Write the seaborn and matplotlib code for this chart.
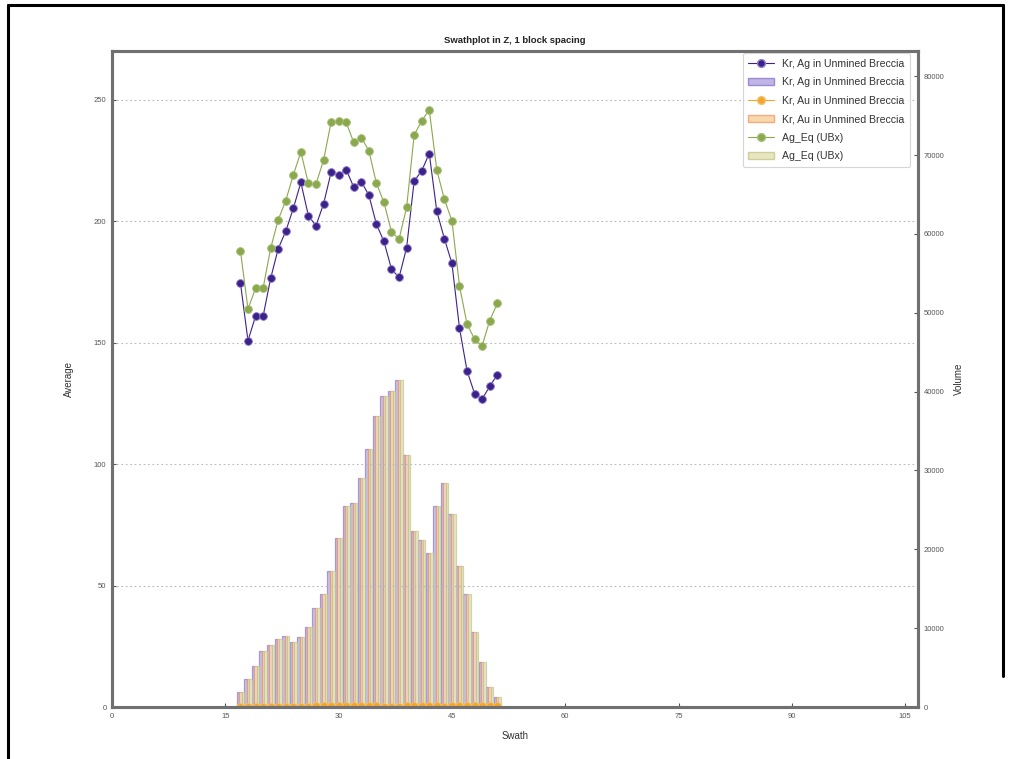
import matplotlib
matplotlib.use("Agg")
import matplotlib.pyplot as plt
import matplotlib.lines as mlines
import matplotlib.patches as mpatches
import numpy as np
import pandas as pd
import seaborn as sns

# Swath positions (block index along Z)
swath = [17, 18, 19, 20, 21, 22, 23, 24, 25, 26, 27, 28, 29, 30, 31, 32, 33, 34,
         35, 36, 37, 38, 39, 40, 41, 42, 43, 44, 45, 46, 47, 48, 49, 50, 51]

# Average grades per swath
ag_avg = [174.6, 150.8, 160.8, 160.8, 176.4, 188.6, 195.8, 205.2, 215.9, 202.2,
          198.1, 207.0, 220.0, 219.0, 221.2, 214.0, 216.2, 210.7, 198.8, 191.6,
          180.2, 176.8, 189.0, 216.5, 220.7, 227.8, 204.0, 192.8, 182.6, 156.0,
          138.4, 129.0, 126.7, 132.0, 136.7]
au_avg = [0.17, 0.16, 0.14, 0.14, 0.16, 0.15, 0.16, 0.17, 0.16, 0.17,
          0.21, 0.22, 0.26, 0.28, 0.24, 0.23, 0.23, 0.23, 0.21, 0.20,
          0.19, 0.20, 0.21, 0.24, 0.26, 0.22, 0.21, 0.20, 0.22, 0.22,
          0.24, 0.28, 0.28, 0.34, 0.37]
ageq_avg = [187.8, 163.8, 172.3, 172.3, 188.8, 200.5, 208.4, 219.0, 228.4, 215.5,
            215.2, 225.0, 240.6, 241.3, 240.6, 232.4, 234.4, 229.0, 215.6, 207.7,
            195.6, 192.6, 205.6, 235.4, 241.3, 245.8, 221.0, 209.0, 200.1, 173.4,
            157.6, 151.4, 148.7, 159.0, 166.1]

# Block volume per swath (same blocks for each estimate)
volume = [1900, 3500, 5230, 7130, 7850, 8650, 8990, 8270, 8900, 10090,
          12620, 14300, 17260, 21480, 25490, 25910, 29080, 32770, 36880, 39410,
          40040, 41440, 31900, 22320, 21150, 19580, 25490, 28440, 24500, 17900,
          14300, 9450, 5650, 2600, 1300]

lbl_ag = "Kr, Ag in Unmined Breccia"
lbl_au = "Kr, Au in Unmined Breccia"
lbl_eq = "Ag_Eq (UBx)"

x_ticks = [0, 15, 30, 45, 60, 75, 90, 105]
y_ticks = [0, 50, 100, 150, 200, 250]
v_ticks = [0, 10000, 20000, 30000, 40000, 50000, 60000, 70000, 80000]

c_ag_line, c_ag_bar, c_ag_edge = "#3d2189", "#b2a2e2", "#8c78c8"
c_au_line, c_au_bar, c_au_edge = "#f4a52a", "#f8cf98", "#f09a6a"
c_eq_line, c_eq_bar, c_eq_edge = "#8aa84e", "#e4e0b0", "#c2c88a"

sns.set_theme(style="white")
plt.rcParams["font.family"] = ["Liberation Sans", "DejaVu Sans"]

lines_df = pd.DataFrame({
    "swath": swath * 3,
    "avg": ag_avg + au_avg + ageq_avg,
    "series": [lbl_ag] * len(swath) + [lbl_au] * len(swath) + [lbl_eq] * len(swath),
})
bars_df = pd.DataFrame({
    "swath": swath * 3,
    "vol": volume * 3,
    "series": ["ag"] * len(swath) + ["au"] * len(swath) + ["eq"] * len(swath),
})

fig = plt.figure(figsize=(10.10, 7.59), dpi=100)
ax = fig.add_axes([0.1109, 0.0685, 0.7980, 0.8643])
ax2 = ax.twinx()

# volume bars on the secondary axis
sns.barplot(data=bars_df, x="swath", y="vol", hue="series", native_scale=True,
            palette={"ag": c_ag_bar, "au": c_au_bar, "eq": c_eq_bar},
            width=0.95, dodge=True, alpha=0.7, linewidth=0.9,
            legend=False, ax=ax2, errorbar=None)
edge_map = [c_ag_edge, c_au_edge, c_eq_edge]
for i, cont in enumerate(ax2.containers):
    for p in cont:
        p.set_edgecolor(edge_map[i])

# average grade lines on the primary axis
sns.lineplot(data=lines_df, x="swath", y="avg", hue="series",
             palette={lbl_ag: c_ag_line, lbl_au: c_au_line, lbl_eq: c_eq_line},
             marker="o", markersize=5.6, markeredgewidth=0.6, linewidth=0.8,
             legend=False, ax=ax, sort=False)
for ln, mc in zip(ax.get_lines(), ["#8f7fcf", "#f3c070", "#a8bf78"]):
    ln.set_markeredgecolor(mc)

ax.set_zorder(ax2.get_zorder() + 1)
ax.patch.set_visible(False)

ax.set_xlim(0, 106.7)
ax.set_ylim(0, 270)
ax2.set_ylim(0, 83200)
ax.set_xticks(x_ticks)
ax.set_yticks(y_ticks)
ax2.set_yticks(v_ticks)

ax.yaxis.grid(True, linestyle=(0, (1.5, 2.5)), color="#b8b8b8", linewidth=0.8)
ax.xaxis.grid(False)
ax2.grid(False)

for a in (ax, ax2):
    for s in a.spines.values():
        s.set_color("#707070")
        s.set_linewidth(2.2)
    a.tick_params(direction="in", length=3, width=0.8, color="#555555",
                  labelsize=5.5, labelcolor="#555555", pad=4)
ax.tick_params(axis="y", left=True, right=False)
ax.tick_params(axis="x", bottom=True)
ax2.tick_params(axis="y", right=True, left=False)

ax.set_xlabel("Swath", fontsize=7, color="#333333", labelpad=8)
ax.set_ylabel("Average", fontsize=7, color="#333333", labelpad=14)
ax2.set_ylabel("Volume", fontsize=7, color="#333333", labelpad=7)
ax2.set_xlabel("")
ax.set_title("Swathplot in Z, 1 block spacing", fontsize=6.8, fontweight="bold",
             color="#222222", pad=6)

handles = [
    mlines.Line2D([], [], color=c_ag_line, marker="o", markersize=5.6,
                  markeredgecolor="#8f7fcf", linewidth=0.8),
    mpatches.Patch(facecolor=c_ag_bar, edgecolor=c_ag_edge, alpha=0.8),
    mlines.Line2D([], [], color=c_au_line, marker="o", markersize=5.6,
                  markeredgecolor="#f3c070", linewidth=0.8),
    mpatches.Patch(facecolor=c_au_bar, edgecolor=c_au_edge, alpha=0.8),
    mlines.Line2D([], [], color=c_eq_line, marker="o", markersize=5.6,
                  markeredgecolor="#a8bf78", linewidth=0.8),
    mpatches.Patch(facecolor=c_eq_bar, edgecolor=c_eq_edge, alpha=0.8),
]
labels = [lbl_ag, lbl_ag, lbl_au, lbl_au, lbl_eq, lbl_eq]
leg = ax.legend(handles, labels, loc="upper right", fontsize=7.6, frameon=True,
                fancybox=True, borderaxespad=0.2, labelspacing=0.8,
                handlelength=2.4, borderpad=0.55,
                bbox_to_anchor=(0.993, 1.0))
leg.get_frame().set_edgecolor("#cccccc")
leg.get_frame().set_linewidth(0.8)
for t in leg.get_texts():
    t.set_color("#333333")

# outer black border (left, top, right)
border_kw = dict(color="black", linewidth=2.2, transform=fig.transFigure)
fig.add_artist(mlines.Line2D([0.008, 0.008], [0.0, 0.9935], **border_kw))
fig.add_artist(mlines.Line2D([0.008, 0.9935], [0.9935, 0.9935], **border_kw))
fig.add_artist(mlines.Line2D([0.9935, 0.9935], [0.9935, 0.11], **border_kw))

fig.savefig("out.png", dpi=100)
